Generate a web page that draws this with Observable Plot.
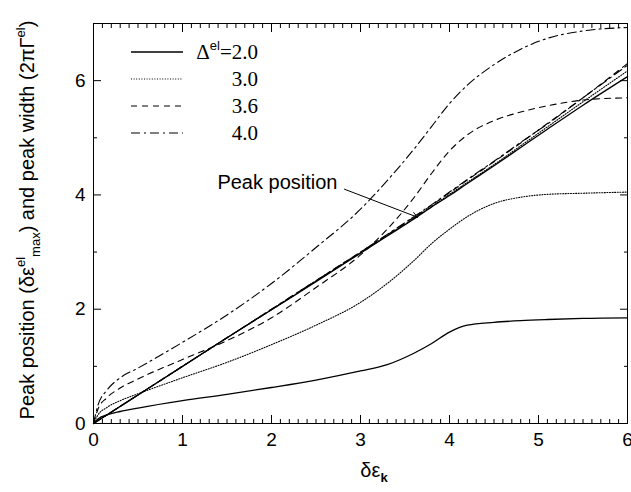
<!DOCTYPE html>
<html>
<head>
<meta charset="utf-8">
<script src="https://cdn.jsdelivr.net/npm/d3@7"></script>
<script src="https://cdn.jsdelivr.net/npm/@observablehq/plot@0.6"></script>
<style>
  html, body { margin: 0; padding: 0; background: #fff; }
  #wrap { position: relative; width: 631px; height: 492px; }
</style>
</head>
<body>
<div id="wrap"></div>
<script>
// ---- data ----
const xGrid = [0, 0.05, 0.15, 0.3, 0.5, 1, 1.5, 2, 2.5, 3, 3.3, 3.6, 3.8, 4, 4.2, 4.5, 4.8, 5.1, 5.5, 6];

// peak widths (2πΓ^el)
const width20 = [0, 0.08, 0.15, 0.21, 0.27, 0.40, 0.51, 0.63, 0.76, 0.92, 1.03, 1.23, 1.40, 1.60, 1.72, 1.77, 1.80, 1.82, 1.84, 1.85];
const width30 = [0, 0.15, 0.28, 0.40, 0.52, 0.80, 1.07, 1.38, 1.72, 2.12, 2.45, 2.85, 3.15, 3.40, 3.62, 3.85, 3.96, 4.01, 4.03, 4.05];
const width36 = [0, 0.25, 0.45, 0.62, 0.78, 1.12, 1.45, 1.85, 2.38, 2.95, 3.40, 3.95, 4.38, 4.77, 5.05, 5.30, 5.45, 5.56, 5.66, 5.70];
const width40 = [0, 0.32, 0.58, 0.80, 0.97, 1.42, 1.90, 2.45, 3.08, 3.75, 4.25, 4.80, 5.20, 5.60, 5.92, 6.28, 6.55, 6.74, 6.87, 6.93];

// peak positions (δε^el_max)
const pos20 = [0, 0.05, 0.15, 0.30, 0.50, 1.00, 1.50, 1.99, 2.48, 2.98, 3.28, 3.58, 3.79, 3.99, 4.20, 4.51, 4.83, 5.15, 5.57, 6.07];
const pos30 = [0, 0.05, 0.15, 0.30, 0.50, 1.00, 1.50, 1.99, 2.49, 2.99, 3.29, 3.59, 3.80, 4.01, 4.22, 4.53, 4.86, 5.19, 5.63, 6.17];
const pos36 = [0, 0.05, 0.15, 0.30, 0.50, 1.00, 1.50, 2.00, 2.50, 3.00, 3.30, 3.61, 3.82, 4.04, 4.26, 4.58, 4.91, 5.25, 5.70, 6.30];
const pos40 = [0, 0.05, 0.15, 0.30, 0.50, 1.00, 1.50, 2.00, 2.50, 3.00, 3.31, 3.62, 3.83, 4.05, 4.27, 4.59, 4.92, 5.24, 5.70, 6.27];

const deltas = ["2.0", "3.0", "3.6", "4.0"];
const dashes = [null, "1,1.6", "6,5", "9,4,2,4"];
const widthsBy = [width20, width30, width36, width40];
const posBy = [pos20, pos30, pos36, pos40];

const xTicks = [0, 1, 2, 3, 4, 5, 6];
const yTicks = [0, 2, 4, 6];
const xMinor = d3.range(0, 60.5, 1).map(v => v / 10);
const yMinor = [1, 3, 5];

const annotationText = "Peak position";
const annotation = [{x1: 2.82, y1: 4.10, x2: 3.64, y2: 3.61}];

// ---- build tidy rows ----
function rows(vals) { return xGrid.map((x, i) => ({x, y: vals[i]})); }

const lineMarks = [];
deltas.forEach((d, k) => {
  const opts = {x: "x", y: "y", stroke: "#000", strokeWidth: k === 0 ? 1.3 : 1.1, curve: "monotone-x"};
  if (dashes[k]) opts.strokeDasharray = dashes[k];
  lineMarks.push(Plot.line(rows(widthsBy[k]), opts));
  lineMarks.push(Plot.line(rows(posBy[k]), opts));
});

const font = "'Liberation Sans', Arial, Helvetica, sans-serif";
const intFmt = d3.format("d");
const noLabel = () => "";

const chart = Plot.plot({
  width: 631,
  height: 492,
  marginLeft: 93,
  marginRight: 4,
  marginTop: 23,
  marginBottom: 69,
  style: {fontFamily: font, fontSize: "19px", color: "#000", background: "#fff", overflow: "visible"},
  x: {domain: [0, 6]},
  y: {domain: [0, 7]},
  marks: [
    // tick labels
    Plot.axisX({anchor: "bottom", ticks: xTicks, tickSize: 0, tickPadding: 9, tickFormat: intFmt, label: null, fontSize: 19}),
    Plot.axisY({anchor: "left", ticks: yTicks, tickSize: 0, tickPadding: 8, tickFormat: intFmt, label: null, fontSize: 19}),
    // inward major ticks on all sides
    Plot.axisX({anchor: "bottom", ticks: xTicks, tickSize: -8, tickFormat: noLabel, label: null}),
    Plot.axisX({anchor: "top", ticks: xTicks, tickSize: -8, tickFormat: noLabel, label: null}),
    Plot.axisY({anchor: "left", ticks: yTicks, tickSize: -8, tickFormat: noLabel, label: null}),
    Plot.axisY({anchor: "right", ticks: yTicks, tickSize: -8, tickFormat: noLabel, label: null}),
    // inward minor ticks
    Plot.axisX({anchor: "bottom", ticks: xMinor, tickSize: -4, tickFormat: noLabel, label: null}),
    Plot.axisX({anchor: "top", ticks: xMinor, tickSize: -4, tickFormat: noLabel, label: null}),
    Plot.axisY({anchor: "left", ticks: yMinor, tickSize: -4, tickFormat: noLabel, label: null}),
    Plot.axisY({anchor: "right", ticks: yMinor, tickSize: -4, tickFormat: noLabel, label: null}),
    ...lineMarks,
    Plot.arrow(annotation, {x1: "x1", y1: "y1", x2: "x2", y2: "y2", stroke: "#000", strokeWidth: 1, headLength: 9}),
    Plot.text(annotation, {x: "x1", y: "y1", text: () => annotationText, textAnchor: "end", dx: -7, dy: -7, fontSize: 20}),
    Plot.frame({stroke: "#000", strokeWidth: 1})
  ]
});

document.getElementById("wrap").appendChild(chart);

// ---- axis titles with super/subscripts ----
const svg = d3.select(chart);
const yl = svg.append("text")
  .attr("transform", "translate(34,220) rotate(-90)")
  .attr("text-anchor", "middle")
  .attr("font-family", font)
  .attr("font-size", 20)
  .attr("fill", "#000");
yl.append("tspan").text("Peak position (δε");
yl.append("tspan").attr("font-size", 13).attr("dy", -9).text("el");
yl.append("tspan").attr("font-size", 13).attr("dy", 15).text("max");
yl.append("tspan").attr("dy", -6).text(") and peak width (2πΓ");
yl.append("tspan").attr("font-size", 13).attr("dy", -9).text("el");
yl.append("tspan").attr("dy", 9).text(")");

const xl = svg.append("text")
  .attr("x", 374).attr("y", 477)
  .attr("text-anchor", "middle")
  .attr("font-family", font)
  .attr("font-size", 20)
  .attr("fill", "#000");
xl.append("tspan").text("δε");
xl.append("tspan").attr("font-size", 13).attr("font-weight", "bold").attr("dy", 5).text("k");

// ---- legend (inside plot area, top-left) ----
const legendRows = deltas.map((d, k) => ({label: d, dash: dashes[k], k}));
const leg = svg.append("g").attr("font-family", "'Liberation Serif', 'Times New Roman', serif").attr("font-size", 21);
const legY0 = 52, legDy = 27;
legendRows.forEach(r => {
  const y = legY0 + r.k * legDy;
  const ln = leg.append("line").attr("x1", 131).attr("x2", 183).attr("y1", y).attr("y2", y)
    .attr("stroke", "#000").attr("stroke-width", r.k === 0 ? 1.3 : 1.1);
  if (r.dash) ln.attr("stroke-dasharray", r.dash);
  const t = leg.append("text").attr("x", 258).attr("y", y + 7).attr("text-anchor", "end").attr("fill", "#000");
  if (r.k === 0) {
    t.append("tspan").text("Δ");
    t.append("tspan").attr("font-family", font).attr("font-size", 13).attr("dy", -9).text("el");
    t.append("tspan").attr("dy", 9).text("=" + r.label);
  } else {
    t.text(r.label);
  }
});
</script>
</body>
</html>
